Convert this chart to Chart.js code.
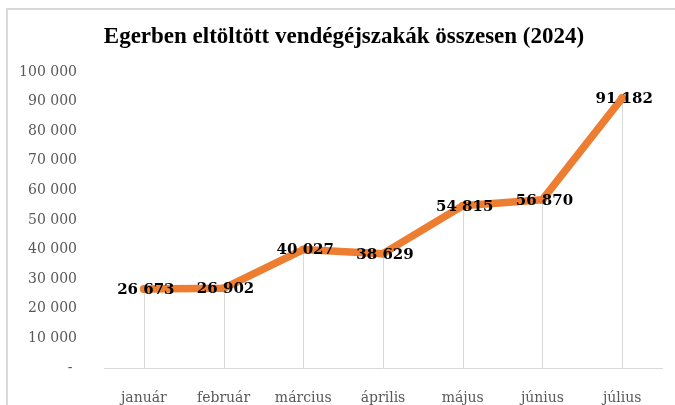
<!DOCTYPE html>
<html>
<head>
<meta charset="utf-8">
<script src="https://cdn.jsdelivr.net/npm/chart.js@4"></script>
<style>
html,body{margin:0;padding:0;background:#fff;width:675px;height:405px;overflow:hidden;}
#frame{position:absolute;left:6px;top:8px;width:700px;height:420px;border-left:2px solid #d9d9d9;border-top:2px solid #d9d9d9;}
#wrap{position:absolute;left:0;top:0;width:675px;height:405px;}
</style>
</head>
<body>
<div id="frame"></div>
<div id="wrap"><canvas id="c" width="675" height="405"></canvas></div>
<script>
const categories = ["január","február","március","április","május","június","július"];
const nights = [26673, 26902, 40027, 38629, 54815, 56870, 91182];
const chartTitle = "Egerben eltöltött vendégéjszakák összesen (2024)";

function fmt(v){
  if (v === 0) return "- ";
  return String(v).replace(/\B(?=(\d{3})+(?!\d))/g, " ");
}

const dropLines = {
  id: 'dropLines',
  beforeDatasetsDraw(chart){
    const ctx = chart.ctx;
    const meta = chart.getDatasetMeta(0);
    const yb = chart.scales.y.getPixelForValue(0);
    ctx.save();
    ctx.strokeStyle = '#d9d9d9';
    ctx.lineWidth = 1;
    meta.data.forEach(p => {
      const x = Math.round(p.x) + 0.5;
      ctx.beginPath();
      ctx.moveTo(x, p.y);
      ctx.lineTo(x, yb);
      ctx.stroke();
    });
    ctx.restore();
  }
};

const dataLabels = {
  id: 'dataLabels',
  afterDatasetsDraw(chart){
    const ctx = chart.ctx;
    const meta = chart.getDatasetMeta(0);
    ctx.save();
    ctx.font = 'bold 15px "DejaVu Serif"';
    ctx.fillStyle = '#000';
    ctx.textAlign = 'center';
    ctx.textBaseline = 'middle';
    meta.data.forEach((p, i) => {
      ctx.fillText(fmt(nights[i]), p.x + 2, p.y + 1);
    });
    ctx.restore();
  }
};

const titleDraw = {
  id: 'titleDraw',
  afterDraw(chart){
    const ctx = chart.ctx;
    ctx.save();
    ctx.font = 'bold 23px "Liberation Serif"';
    ctx.fillStyle = '#000';
    ctx.textAlign = 'center';
    ctx.textBaseline = 'middle';
    ctx.fillText(chartTitle, 344, 37);
    ctx.restore();
  }
};

new Chart(document.getElementById('c'), {
  type: 'line',
  data: {
    labels: categories,
    datasets: [{
      data: nights,
      borderColor: '#ED7D31',
      backgroundColor: '#ED7D31',
      borderWidth: 7.5,
      borderJoinStyle: 'round',
      borderCapStyle: 'round',
      pointRadius: 4,
      pointBorderWidth: 0,
      tension: 0,
      fill: false
    }]
  },
  plugins: [dropLines, dataLabels, titleDraw],
  options: {
    responsive: false,
    animation: false,
    layout: { padding: { left: 0, right: 13, top: 72, bottom: 0 } },
    plugins: {
      legend: { display: false },
      tooltip: { enabled: false },
      title: { display: false }
    },
    scales: {
      x: {
        offset: true,
        grid: { display: false },
        border: { display: true, color: '#d9d9d9', width: 1 },
        ticks: { color: '#595959', font: { family: 'DejaVu Serif', size: 14 }, padding: 14, maxRotation: 0 },
        afterFit(s){ s.height = 37; }
      },
      y: {
        min: 0, max: 100000,
        grid: { display: false },
        border: { display: false },
        ticks: {
          stepSize: 10000,
          color: '#595959',
          font: { family: 'DejaVu Serif', size: 14 },
          padding: 19,
          callback: v => fmt(v)
        },
        afterFit(s){ s.width = 104; }
      }
    }
  }
});
</script>
</body>
</html>
